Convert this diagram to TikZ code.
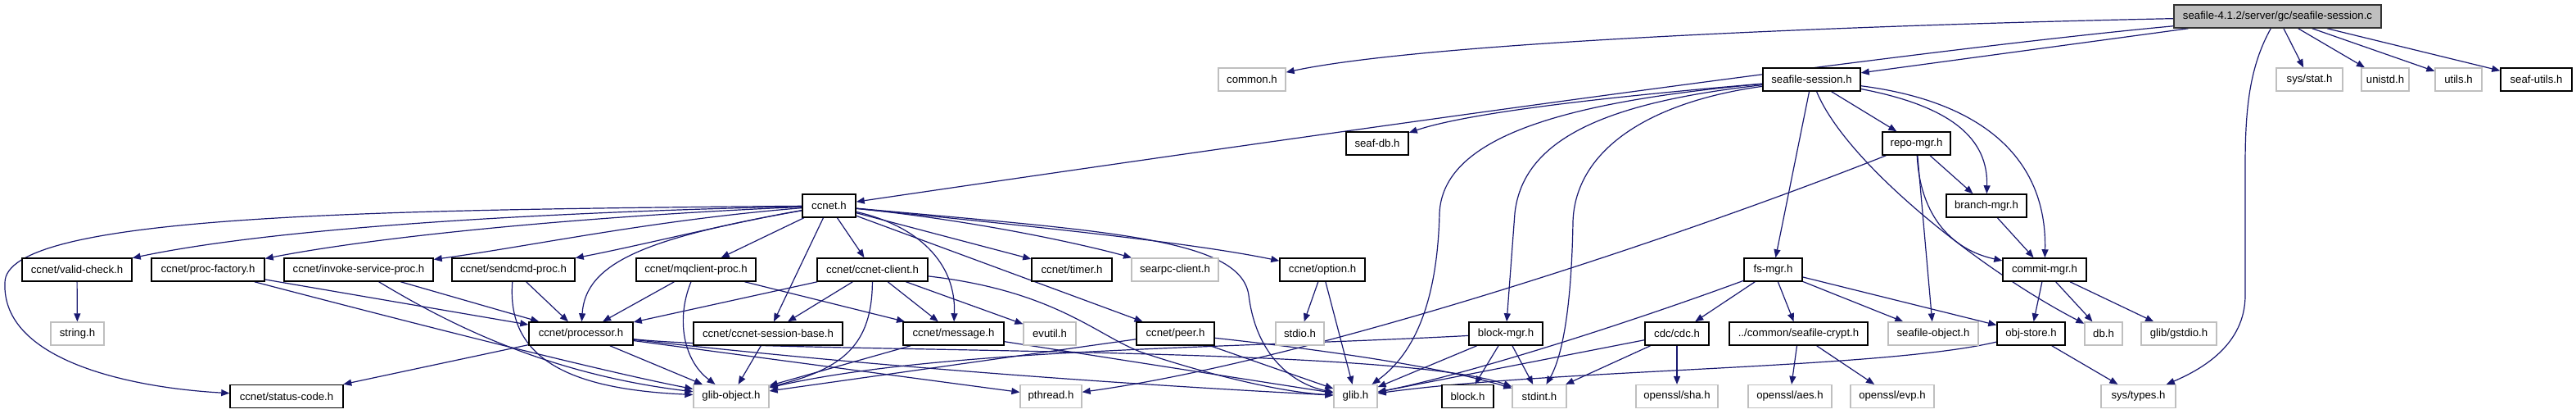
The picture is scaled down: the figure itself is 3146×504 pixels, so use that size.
\documentclass[tikz,border=0pt]{standalone}
\usepackage{fontspec}
\setmainfont{Liberation Sans}
\usetikzlibrary{arrows.meta}
\definecolor{edgec}{HTML}{191970}
\definecolor{extc}{HTML}{BFBFBF}
\definecolor{rootc}{HTML}{BFBFBF}
\pgfdeclarelayer{background}
\pgfsetlayers{background,main}
\newcommand{\bx}[6]{\node[#6, minimum width={(#3-#2)*0.5pt}] (#1) at ({(#2+#3)/2},#4) {#5};}
\tikzset{
  nbase/.style={rectangle, inner sep=0pt, minimum height=14pt, fill=white,
    font=\fontsize{6.6pt}{7pt}\selectfont},
  doc/.style={nbase, draw=black, line width=0.75pt},
  ext/.style={nbase, draw=extc, line width=0.65pt},
  rootn/.style={nbase, draw=black!80, fill=rootc, line width=0.75pt},
  edge/.style={draw=edgec, line width=0.6pt, -{Triangle[length=5pt,width=4pt]}}
}
\begin{document}
\begin{tikzpicture}[x=0.5pt,y=-0.5pt]
\useasboundingbox (0,0) rectangle (3146,504);
% level 0
\bx{R}{2655}{2908}{20}{seafile-4.1.2/server/gc/seafile-session.c}{rootn}
% level 1
\bx{common}{1488}{1570}{97}{common.h}{ext}
\bx{SS}{2153}{2272}{97}{seafile-session.h}{doc}
\bx{sysstat}{2780}{2861}{97}{sys/stat.h}{ext}
\bx{unistd}{2884}{2942}{97}{unistd.h}{ext}
\bx{utils}{2974}{3031}{97}{utils.h}{ext}
\bx{seafutils}{3054}{3141}{97}{seaf-utils.h}{doc}
% level 2
\bx{seafdb}{1644}{1720}{175}{seaf-db.h}{doc}
\bx{RM}{2299}{2382}{175}{repo-mgr.h}{doc}
% level 3
\bx{CC}{980}{1045}{251}{ccnet.h}{doc}
\bx{BM}{2377}{2475}{251}{branch-mgr.h}{doc}
% level 4
\bx{validcheck}{27}{161}{329}{ccnet/valid-check.h}{doc}
\bx{procfactory}{185}{323}{329}{ccnet/proc-factory.h}{doc}
\bx{invoke}{347}{529}{329}{ccnet/invoke-service-proc.h}{doc}
\bx{sendcmd}{552}{702}{329}{ccnet/sendcmd-proc.h}{doc}
\bx{mq}{777}{923}{329}{ccnet/mqclient-proc.h}{doc}
\bx{client}{998}{1133}{329}{ccnet/ccnet-client.h}{doc}
\bx{timer}{1260}{1358}{329}{ccnet/timer.h}{doc}
\bx{searpc}{1382}{1488}{329}{searpc-client.h}{ext}
\bx{option}{1563}{1667}{329}{ccnet/option.h}{doc}
\bx{fsmgr}{2130}{2201}{329}{fs-mgr.h}{doc}
\bx{CM}{2446}{2548}{329}{commit-mgr.h}{doc}
% level 5
\bx{string}{62}{127}{407}{string.h}{ext}
\bx{PR}{646}{773}{407}{ccnet/processor.h}{doc}
\bx{sessbase}{847}{1029}{407}{ccnet/ccnet-session-base.h}{doc}
\bx{message}{1103}{1226}{407}{ccnet/message.h}{doc}
\bx{evutil}{1250}{1314}{407}{evutil.h}{ext}
\bx{peer}{1388}{1483}{407}{ccnet/peer.h}{doc}
\bx{stdio}{1558}{1617}{407}{stdio.h}{ext}
\bx{blockmgr}{1794}{1884}{407}{block-mgr.h}{doc}
\bx{cdc}{2009}{2087}{407}{cdc/cdc.h}{doc}
\bx{crypt}{2112}{2281}{407}{../common/seafile-crypt.h}{doc}
\bx{seafobj}{2306}{2416}{407}{seafile-object.h}{ext}
\bx{objstore}{2439}{2522}{407}{obj-store.h}{doc}
\bx{db}{2546}{2592}{407}{db.h}{ext}
\bx{gstdio}{2615}{2707}{407}{glib/gstdio.h}{ext}
% level 6
\bx{status}{281}{419}{483.5}{ccnet/status-code.h}{doc}
\bx{glibobj}{847}{939}{483.5}{glib-object.h}{ext}
\bx{pthread}{1246}{1321}{483.5}{pthread.h}{ext}
\bx{glib}{1629}{1682}{483.5}{glib.h}{ext}
\bx{block}{1761}{1824}{483.5}{block.h}{doc}
\bx{stdint}{1847}{1913}{483.5}{stdint.h}{ext}
\bx{sha}{1998}{2098}{483.5}{openssl/sha.h}{ext}
\bx{aes}{2135}{2237}{483.5}{openssl/aes.h}{ext}
\bx{evp}{2260}{2362}{483.5}{openssl/evp.h}{ext}
\bx{systypes}{2566}{2657}{483.5}{sys/types.h}{ext}

\begin{pgfonlayer}{background}
% root
\draw[edge] (R) .. controls (2300,30) and (1750,50) .. (common);
\draw[edge] (R) .. controls (2350,60) and (1700,150) .. (CC);
\draw[edge] (R) -- (SS);
\draw[edge] (R) -- (sysstat);
\draw[edge] (R) -- (unistd);
\draw[edge] (R) -- (utils);
\draw[edge] (R) -- (seafutils);
\draw[edge] (R) .. controls (2748,80) and (2742,130) .. (2742,200) -- (2742,360) .. controls (2742,420) and (2690,450) .. (systypes);
% seafile-session.h
\draw[edge] (SS) .. controls (2000,115) and (1800,135) .. (seafdb);
\draw[edge] (SS) .. controls (1900,125) and (1762,170) .. (1758,260) .. controls (1755,390) and (1715,440) .. (glib);
\draw[edge] (SS) .. controls (1960,125) and (1860,170) .. (1850,260) -- (blockmgr);
\draw[edge] (SS) .. controls (2010,125) and (1924,185) .. (1921,270) .. controls (1919,390) and (1905,440) .. (stdint);
\draw[edge] (SS) -- (fsmgr);
\draw[edge] (SS) .. controls (2255,200) and (2420,330) .. (db);
\draw[edge] (SS) -- (RM);
\draw[edge] (SS) .. controls (2385,130) and (2428,170) .. (BM);
\draw[edge] (SS) .. controls (2430,125) and (2500,200) .. (CM);
% repo-mgr.h
\draw[edge] (RM) -- (BM);
\draw[edge] (RM) .. controls (2345,265) and (2385,305) .. (CM);
\draw[edge] (RM) -- (seafobj);
\draw[edge] (RM) .. controls (2050,290) and (1600,440) .. (pthread);
\draw[edge] (BM) -- (CM);
% ccnet.h
\draw[edge] (CC) .. controls (450,256) and (5,262) .. (6,345) .. controls (2,440) and (160,473) .. (status);
\draw[edge] (CC) .. controls (700,258) and (350,275) .. (validcheck);
\draw[edge] (CC) .. controls (750,262) and (480,285) .. (procfactory);
\draw[edge] (CC) .. controls (800,268) and (650,300) .. (invoke);
\draw[edge] (CC) .. controls (900,270) and (780,300) .. (sendcmd);
\draw[edge] (CC) -- (mq);
\draw[edge] (CC) .. controls (790,290) and (715,320) .. (PR);
\draw[edge] (CC) -- (sessbase);
\draw[edge] (CC) -- (client);
\draw[edge] (CC) .. controls (1120,275) and (1168,320) .. (message);
\draw[edge] (CC) -- (timer);
\draw[edge] (CC) .. controls (1200,270) and (1330,300) .. (searpc);
\draw[edge] (CC) .. controls (1250,275) and (1450,295) .. (option);
\draw[edge] (CC) .. controls (1350,282) and (1515,290) .. (1525,360) .. controls (1535,440) and (1585,470) .. (glib);
\draw[edge] (CC) -- (peer);
% level 4 sources
\draw[edge] (validcheck) -- (string);
\draw[edge] (procfactory) -- (PR);
\draw[edge] (procfactory) .. controls (450,380) and (720,450) .. (glibobj);
\draw[edge] (invoke) .. controls (540,390) and (660,455) .. (glibobj);
\draw[edge] (invoke) -- (PR);
\draw[edge] (sendcmd) .. controls (618,440) and (700,475) .. (glibobj);
\draw[edge] (sendcmd) -- (PR);
\draw[edge] (mq) -- (PR);
\draw[edge] (mq) .. controls (825,390) and (835,440) .. (glibobj);
\draw[edge] (mq) -- (message);
\draw[edge] (client) -- (PR);
\draw[edge] (client) -- (sessbase);
\draw[edge] (client) .. controls (1065,420) and (1030,450) .. (glibobj);
\draw[edge] (client) -- (message);
\draw[edge] (client) -- (evutil);
\draw[edge] (client) .. controls (1290,355) and (1340,410) .. (1395,430) .. controls (1470,455) and (1560,478) .. (glib);
\draw[edge] (option) -- (stdio);
\draw[edge] (option) -- (glib);
\draw[edge] (fsmgr) .. controls (2000,390) and (1800,455) .. (glib);
\draw[edge] (fsmgr) -- (cdc);
\draw[edge] (fsmgr) -- (crypt);
\draw[edge] (fsmgr) -- (seafobj);
\draw[edge] (fsmgr) -- (objstore);
\draw[edge] (CM) -- (objstore);
\draw[edge] (CM) -- (db);
\draw[edge] (CM) -- (gstdio);
% level 5 sources
\draw[edge] (PR) -- (status);
\draw[edge] (PR) -- (glibobj);
\draw[edge] (PR) -- (pthread);
\draw[edge] (PR) .. controls (1000,440) and (1300,465) .. (glib);
\draw[edge] (PR) .. controls (950,432) and (1700,420) .. (stdint);
\draw[edge] (sessbase) -- (glibobj);
\draw[edge] (message) -- (glibobj);
\draw[edge] (message) -- (glib);
\draw[edge] (peer) -- (glibobj);
\draw[edge] (peer) -- (glib);
\draw[edge] (peer) .. controls (1600,425) and (1750,445) .. (stdint);
\draw[edge] (blockmgr) .. controls (1500,425) and (1150,425) .. (glibobj);
\draw[edge] (blockmgr) -- (glib);
\draw[edge] (blockmgr) -- (block);
\draw[edge] (blockmgr) -- (stdint);
\draw[edge] (cdc) -- (glib);
\draw[edge] (cdc) -- (stdint);
\draw[edge] (cdc) -- (sha);
\draw[edge] (crypt) -- (aes);
\draw[edge] (crypt) -- (evp);
\draw[edge] (objstore) .. controls (2300,450) and (1900,450) .. (glib);
\draw[edge] (objstore) -- (systypes);
\end{pgfonlayer}
\end{tikzpicture}
\end{document}
